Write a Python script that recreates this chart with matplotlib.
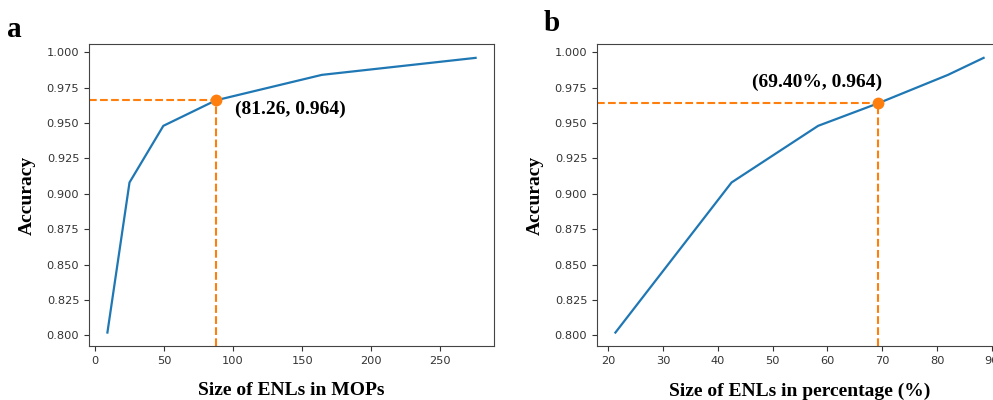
import matplotlib
matplotlib.use("Agg")
from matplotlib import pyplot as plt

# accuracy vs. ENL size
size_mops = [9.0, 25.0, 49.5, 87.5, 164.3, 275.6]
size_pct = [21.3, 42.5, 58.3, 69.3, 82.0, 88.5]
acc_mops = [0.802, 0.908, 0.948, 0.966, 0.984, 0.996]
acc_pct = [0.802, 0.908, 0.948, 0.964, 0.984, 0.996]

hl_mops = (87.5, 0.966)
hl_pct = (69.3, 0.964)
hl_text_mops = "(81.26, 0.964)"
hl_text_pct = "(69.40%, 0.964)"

serif = ["Liberation Serif", "DejaVu Serif"]
orange = "#ff7f0e"

fig = plt.figure(figsize=(9.93, 4.0), dpi=100)
ax1 = fig.add_axes([89 / 993, 54 / 400, 405 / 993, 302 / 400])
ax2 = fig.add_axes([597 / 993, 54 / 400, 405 / 993, 302 / 400])


def _panel(ax, x, y, hl, text, text_xy, text_ha, xlabel):
    ax.plot(x, y, color="#1f77b4", lw=1.6)
    ax.margins(0.05)
    ax.set_ylim(0.7925, 1.0058)
    x0, x1 = ax.get_xlim()
    ax.set_xlim(x0, x1)
    ax.plot([x0, hl[0]], [hl[1], hl[1]], "--", color=orange, lw=1.5)
    ax.plot([hl[0], hl[0]], [0.7925, hl[1]], "--", color=orange, lw=1.5)
    ax.plot(hl[0], hl[1], "o", color=orange, ms=7.5)
    ax.text(text_xy[0], text_xy[1], text, ha=text_ha, va="center",
            family=serif, weight="bold", fontsize=14)
    ax.set_yticks([0.800, 0.825, 0.850, 0.875, 0.900, 0.925, 0.950, 0.975, 1.000])
    ax.set_yticklabels(["%.3f" % v for v in ax.get_yticks()])
    ax.tick_params(labelsize=8.2, labelcolor="#333333", color="#333333")
    for s in ax.spines.values():
        s.set_color("#444444")
    ax.set_ylabel("Accuracy", family=serif, weight="bold", fontsize=14, labelpad=8)
    ax.set_xlabel(xlabel, family=serif, weight="bold", fontsize=14, labelpad=12)


_panel(ax1, size_mops, acc_mops, hl_mops, hl_text_mops, (101.7, 0.960), "left",
       "Size of ENLs in MOPs")
ax1.set_xticks([0, 50, 100, 150, 200, 250])

_panel(ax2, size_pct, acc_pct, hl_pct, hl_text_pct, (58.1, 0.979), "center",
       "Size of ENLs in percentage (%)")
ax2.set_xticks([20, 30, 40, 50, 60, 70, 80, 90])

fig.text(7 / 993, 1 - 37 / 400, "a", family=serif, weight="bold", fontsize=21)
fig.text(544 / 993, 1 - 31 / 400, "b", family=serif, weight="bold", fontsize=21)

fig.savefig("out.png", dpi=100)
